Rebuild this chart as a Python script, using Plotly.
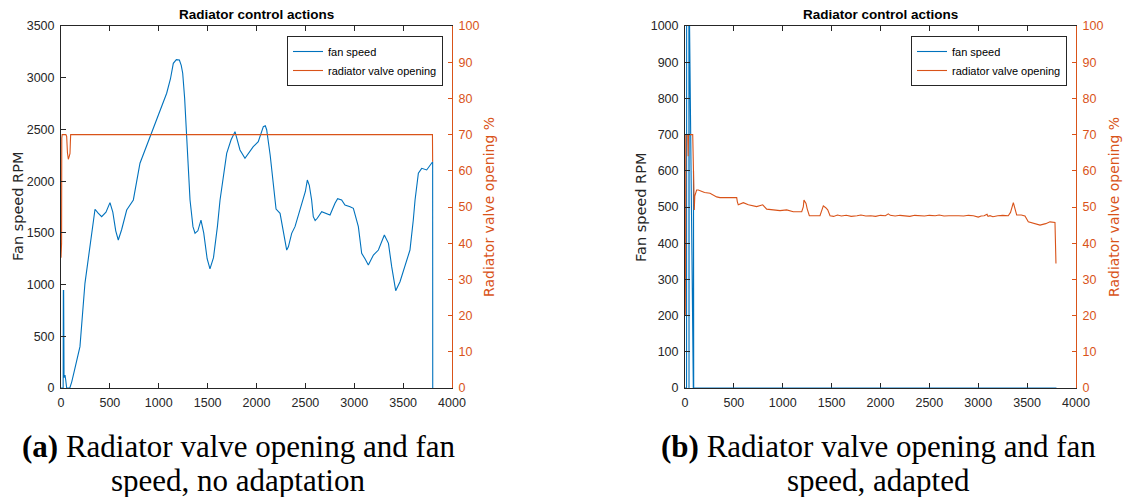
import plotly.graph_objects as go

# ---------------- data ----------------
# (a) no adaptation
fan_a_t = [0, 22, 24, 27, 31, 36, 41, 48, 58, 90, 110, 140, 194, 245, 297, 348, 380, 416, 460, 501, 530,
           560, 586, 620, 672, 740, 808, 860, 928, 996, 1040, 1081, 1120, 1149, 1180, 1211, 1230, 1245,
           1265, 1286, 1320, 1350, 1371, 1400, 1432, 1460, 1495, 1524, 1560, 1600, 1627, 1695, 1740,
           1780, 1810, 1831, 1882, 1930, 1967, 2018, 2050, 2070, 2090, 2104, 2140, 2172, 2200, 2241,
           2275, 2309, 2326, 2360, 2394, 2428, 2462, 2479, 2500, 2520, 2540, 2564, 2581, 2600, 2622,
           2667, 2718, 2752, 2803, 2830, 2871, 2905, 2957, 2991, 3042, 3076, 3110, 3144, 3196, 3247,
           3308, 3350, 3383, 3424, 3468, 3519, 3570, 3604, 3622, 3656, 3690, 3741, 3775, 3802, 3803]
fan_a_rpm = [0, 0, 941, 941, 100, 120, 126, 80, 0, 0, 60, 180, 400, 1012, 1399, 1728, 1690, 1656, 1700,
             1792, 1700, 1520, 1431, 1530, 1721, 1818, 2173, 2300, 2463, 2640, 2740, 2850, 2990, 3139,
             3175, 3171, 3120, 3043, 2800, 2463, 1818, 1560, 1496, 1520, 1624, 1500, 1250, 1151, 1260,
             1560, 1818, 2269, 2400, 2478, 2380, 2301, 2221, 2290, 2333, 2381, 2460, 2527, 2535, 2497,
             2250, 1946, 1730, 1689, 1500, 1334, 1365, 1495, 1560, 1672, 1786, 1818, 1900, 2011, 1960,
             1818, 1656, 1620, 1641, 1705, 1682, 1673, 1786, 1830, 1818, 1769, 1753, 1737, 1560, 1302,
             1250, 1189, 1286, 1334, 1479, 1399, 1173, 941, 1028, 1173, 1334, 1624, 1818, 2076, 2124,
             2108, 2156, 2188, 0]
valve_a_t = [0, 6, 8, 12, 50, 58, 66, 75, 84, 92, 96, 99, 3800, 3802]
valve_a_pct = [36, 40, 69, 70, 70, 69.5, 65, 63.2, 64, 64.8, 68, 70, 70, 62.5]

# (b) adapted
fan_b_t = [0, 16, 17, 39, 41, 42, 43, 85, 87, 89, 3800]
fan_b_rpm = [0, 0, 1500, 1500, 0, 0, 1100, 0, 600, 0, 0]
valve_b_t = [0, 3, 6, 8, 10, 28, 32, 36, 79, 88, 95, 100, 119, 136, 200, 256, 324, 358, 529, 535, 545,
             597, 648, 733, 795, 836, 972, 1040, 1108, 1194, 1210, 1217, 1238, 1250, 1272, 1381, 1400,
             1415, 1440, 1460, 1484, 1520, 1560, 1600, 1650, 1700, 1760, 1800, 1850, 1900, 1950, 2000,
             2050, 2080, 2100, 2150, 2200, 2260, 2300, 2350, 2400, 2450, 2500, 2560, 2600, 2650, 2700,
             2750, 2800, 2850, 2900, 2950, 3000, 3030, 3060, 3090, 3100, 3120, 3150, 3200, 3250, 3307,
             3330, 3359, 3393, 3440, 3478, 3512, 3570, 3632, 3690, 3734, 3785, 3795]
valve_b_pct = [34, 20, 40, 70, 70, 70, 64, 70, 70, 56, 49.2, 53, 54.7, 54.7, 54.0, 53.8, 52.8, 52.6, 52.6,
               51.5, 50.6, 51.2, 50.6, 50.1, 50.6, 49.4, 49.0, 49.2, 48.7, 48.7, 50.0, 51.9, 51.0, 49.5,
               47.6, 47.6, 49.0, 50.3, 49.8, 49.2, 47.6, 47.4, 47.8, 47.5, 47.7, 47.4, 47.6, 47.8, 47.5,
               47.6, 47.4, 47.7, 47.6, 48.1, 47.7, 47.5, 47.7, 47.6, 47.4, 47.7, 47.6, 47.5, 47.7, 47.6,
               47.8, 47.5, 47.6, 47.7, 47.6, 47.5, 47.7, 47.6, 47.2, 47.5, 47.6, 48.0, 47.4, 47.6, 47.3,
               47.6, 47.7, 47.6, 48.5, 51.2, 47.8, 47.8, 47.5, 45.9, 45.4, 45.0, 45.4, 45.9, 45.7, 34.4]

plot_title = "Radiator control actions"
y_left_label = "Fan speed RPM"
y_right_label = "Radiator valve opening %"
series_names = ["fan speed", "radiator valve opening"]
caption_a = ["<b>(a)</b> Radiator valve opening and fan", "speed, no adaptation"]
caption_b = ["<b>(b)</b> Radiator valve opening and fan", "speed, adapted"]

# ---------------- style ----------------
W, H = 1126, 497
BLUE = "#0072BD"
ORANGE = "#D95319"
DARK = "#262626"
SANS = "Liberation Sans, Arial, Helvetica, sans-serif"
LABELFONT = "DejaVu Sans, sans-serif"
SERIF = "Liberation Serif, Times New Roman, serif"

def fx(p):
    return p / W

def fy(p):
    return 1 - p / H

top, bottom = 26, 388
dom_y = [fy(bottom), fy(top)]
panels = [(61, 452), (685, 1076)]

fig = go.Figure()
fig.add_trace(go.Scatter(x=fan_a_t, y=fan_a_rpm, mode="lines", name=series_names[0],
                         line=dict(color=BLUE, width=1.1), xaxis="x", yaxis="y", legend="legend"))
fig.add_trace(go.Scatter(x=valve_a_t, y=valve_a_pct, mode="lines", name=series_names[1],
                         line=dict(color=ORANGE, width=1.1), xaxis="x", yaxis="y2", legend="legend"))
fig.add_trace(go.Scatter(x=fan_b_t, y=fan_b_rpm, mode="lines", name=series_names[0],
                         line=dict(color=BLUE, width=1.1), xaxis="x2", yaxis="y3", legend="legend2"))
fig.add_trace(go.Scatter(x=valve_b_t, y=valve_b_pct, mode="lines", name=series_names[1],
                         line=dict(color=ORANGE, width=1.1), xaxis="x2", yaxis="y4", legend="legend2"))

tickfont = dict(family=SANS, size=12.5, color=DARK)

def xax(dom, anchor):
    return dict(domain=dom, anchor=anchor, range=[0, 4000], tick0=0, dtick=500, ticks="inside",
                ticklen=5, tickcolor=DARK, showline=True, linecolor=DARK, linewidth=1, mirror="ticks",
                showgrid=False, zeroline=False, tickfont=tickfont, layer="below traces",
                ticklabelstandoff=3, automargin=False)

def yleft(anchor, rmax, dt):
    return dict(domain=dom_y, anchor=anchor, range=[0, rmax], tick0=0, dtick=dt, ticks="inside",
                ticklen=5, tickcolor=DARK, showline=True, linecolor=DARK, linewidth=1,
                showgrid=False, zeroline=False, tickfont=tickfont, ticklabelstandoff=3,
                automargin=False)

def yright(anchor, over):
    return dict(anchor=anchor, overlaying=over, side="right", range=[0, 100], tick0=0, dtick=10,
                ticks="inside", ticklen=4, tickcolor=ORANGE, showline=True, linecolor=ORANGE,
                linewidth=1, showgrid=False, zeroline=False, automargin=False,
                tickfont=dict(family=SANS, size=12.5, color=ORANGE), ticklabelstandoff=3)

legend_common = dict(xanchor="right", y=fy(36), yanchor="top", bordercolor=DARK, borderwidth=1,
                     bgcolor="white", font=dict(family=SANS, size=11, color="black"),
                     tracegroupgap=0)

annotations = []
for (l, r) in panels:
    cx = (l + r) / 2
    annotations.append(dict(text=f"<b>{plot_title}</b>", x=fx(cx), y=fy(15), xref="paper", yref="paper",
                            showarrow=False, xanchor="center", yanchor="middle",
                            font=dict(family=SANS, size=13.5, color="black")))
capcenters = [238, 878]
for cx, cap in zip(capcenters, [caption_a, caption_b]):
    annotations.append(dict(text=cap[0], x=fx(cx), y=fy(446), xref="paper", yref="paper",
                            showarrow=False, xanchor="center", yanchor="middle",
                            font=dict(family=SERIF, size=31, color="black")))
    annotations.append(dict(text=cap[1], x=fx(cx), y=fy(480), xref="paper", yref="paper",
                            showarrow=False, xanchor="center", yanchor="middle",
                            font=dict(family=SERIF, size=31, color="black")))
for lx, rx in [(18, 489), (641, 1114)]:
    annotations.append(dict(text=y_left_label, x=fx(lx), y=fy(207), xref="paper", yref="paper",
                            showarrow=False, xanchor="center", yanchor="middle", textangle=-90,
                            font=dict(family=LABELFONT, size=14.5, color=DARK)))
    annotations.append(dict(text=y_right_label, x=fx(rx), y=fy(207), xref="paper", yref="paper",
                            showarrow=False, xanchor="center", yanchor="middle", textangle=-90,
                            font=dict(family=LABELFONT, size=14, color=ORANGE)))

fig.update_layout(
    width=W, height=H, autosize=False,
    margin=dict(l=0, r=0, t=0, b=0, autoexpand=False),
    paper_bgcolor="white", plot_bgcolor="white",
    xaxis=xax([fx(panels[0][0]), fx(panels[0][1])], "y"),
    yaxis=yleft("x", 3500, 500),
    yaxis2=yright("x", "y"),
    xaxis2=xax([fx(panels[1][0]), fx(panels[1][1])], "y3"),
    yaxis3=yleft("x2", 1000, 100),
    yaxis4=yright("x2", "y3"),
    legend=dict(x=fx(443), **legend_common),
    legend2=dict(x=fx(1067), **legend_common),
    annotations=annotations,
    showlegend=True,
)

fig.write_html("out.html", config={"displayModeBar": False},
               post_script="document.body.style.margin='0';document.body.style.overflow='hidden';")
